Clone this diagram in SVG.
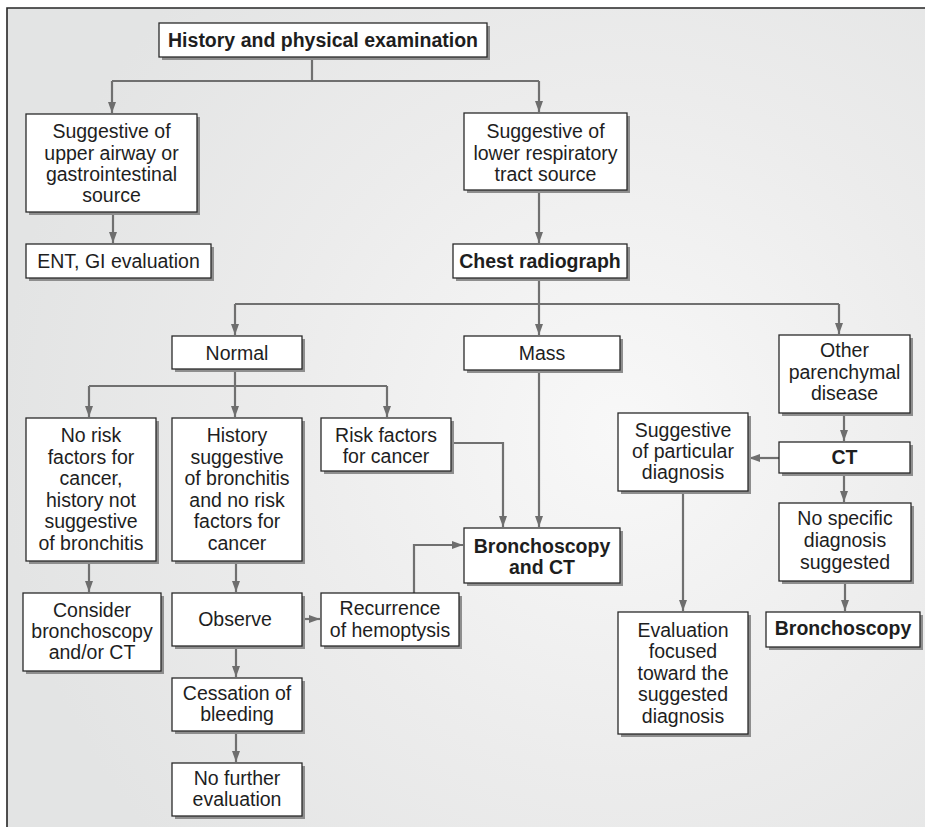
<svg xmlns="http://www.w3.org/2000/svg" width="925" height="827" viewBox="0 0 925 827">
  <style>
    .box { fill: #ffffff; stroke: #2a2a2a; stroke-width: 1.3; }
    .shadow { fill: #8e8e8e; }
    .t { font-family: "Liberation Sans", Arial, Helvetica, sans-serif; font-size: 19.5px; fill: #1e1e1e; text-anchor: middle; }
    .b { font-weight: bold; }
    .c { fill: none; stroke: #707070; stroke-width: 2.2; }
    .ca { fill: none; stroke: #707070; stroke-width: 2.2; marker-end: url(#arrow); }
  </style>
  <defs>
    <radialGradient id="bg" cx="620" cy="430" r="620" gradientUnits="userSpaceOnUse">
      <stop offset="0" stop-color="#f8f8f8"/>
      <stop offset="0.55" stop-color="#ececec"/>
      <stop offset="1" stop-color="#e3e4e4"/>
    </radialGradient>
    <marker id="arrow" markerUnits="userSpaceOnUse" markerWidth="12" markerHeight="10" viewBox="0 0 12 10" refX="11" refY="5" orient="auto">
      <path d="M0,1 L11,5 L0,9 Z" fill="#6e6e6e"/>
    </marker>
  </defs>

  <!-- page and frame -->
  <rect x="0" y="0" width="925" height="827" fill="#ffffff"/>
  <rect x="7" y="8" width="918" height="819" fill="url(#bg)"/>
  <path d="M7,827 V8 H925" fill="none" stroke="#262626" stroke-width="1.6"/>

  <!-- connectors -->
  <g id="connectors">
    <path class="c" d="M312,57 V81 M112,81 H539"/>
    <path class="ca" d="M112,81 V113"/>
    <path class="ca" d="M539,81 V112"/>
    <path class="ca" d="M113,212 V243"/>
    <path class="ca" d="M539,190 V243"/>
    <path class="c" d="M539,278 V304 M235,304 H839"/>
    <path class="ca" d="M235,304 V335"/>
    <path class="ca" d="M539,304 V335"/>
    <path class="ca" d="M839,304 V334"/>
    <path class="c" d="M235,369 V386 M89,386 H387"/>
    <path class="ca" d="M89,386 V417"/>
    <path class="ca" d="M235,386 V417"/>
    <path class="ca" d="M387,386 V417"/>
    <path class="ca" d="M451,443 H503 V527"/>
    <path class="ca" d="M539,370 V527"/>
    <path class="ca" d="M844,413 V441"/>
    <path class="ca" d="M779,458 H749"/>
    <path class="ca" d="M844,473 V502"/>
    <path class="ca" d="M683,491 V611"/>
    <path class="ca" d="M845,581 V611"/>
    <path class="ca" d="M89,561 V592"/>
    <path class="ca" d="M236,561 V592"/>
    <path class="ca" d="M302,619 H320"/>
    <path class="ca" d="M414,593 V545 H463"/>
    <path class="ca" d="M236,646 V677"/>
    <path class="ca" d="M236,731 V762"/>
  </g>

  <g id="history">
    <rect class="shadow" x="162" y="26" width="328" height="34"/>
    <rect class="box" x="159" y="23" width="328" height="34"/>
    <text class="t b" x="323" y="47">History and physical examination</text>
  </g>

  <g id="upper-source">
    <rect class="shadow" x="29" y="117" width="171" height="98"/>
    <rect class="box" x="26" y="114" width="171" height="98"/>
    <text class="t" x="111.5" y="138">Suggestive of</text>
    <text class="t" x="111.5" y="160">upper airway or</text>
    <text class="t" x="111.5" y="181">gastrointestinal</text>
    <text class="t" x="111.5" y="202">source</text>
  </g>

  <g id="ent-gi">
    <rect class="shadow" x="29" y="247" width="185" height="34"/>
    <rect class="box" x="26" y="244" width="185" height="34"/>
    <text class="t" x="118.5" y="268">ENT, GI evaluation</text>
  </g>

  <g id="lower-source">
    <rect class="shadow" x="467" y="116" width="163" height="77"/>
    <rect class="box" x="464" y="113" width="163" height="77"/>
    <text class="t" x="545.5" y="138">Suggestive of</text>
    <text class="t" x="545.5" y="160">lower respiratory</text>
    <text class="t" x="545.5" y="181">tract source</text>
  </g>

  <g id="chest-radiograph">
    <rect class="shadow" x="456" y="247" width="174" height="34"/>
    <rect class="box" x="453" y="244" width="174" height="34"/>
    <text class="t b" x="540" y="268">Chest radiograph</text>
  </g>

  <g id="normal">
    <rect class="shadow" x="175" y="339" width="130" height="33"/>
    <rect class="box" x="172" y="336" width="130" height="33"/>
    <text class="t" x="237" y="360">Normal</text>
  </g>

  <g id="mass">
    <rect class="shadow" x="467" y="339" width="156" height="34"/>
    <rect class="box" x="464" y="336" width="156" height="34"/>
    <text class="t" x="542" y="360">Mass</text>
  </g>

  <g id="other-parenchymal">
    <rect class="shadow" x="782" y="338" width="131" height="78"/>
    <rect class="box" x="779" y="335" width="131" height="78"/>
    <text class="t" x="844.5" y="357">Other</text>
    <text class="t" x="844.5" y="379">parenchymal</text>
    <text class="t" x="844.5" y="400">disease</text>
  </g>

  <g id="no-risk">
    <rect class="shadow" x="29" y="421" width="130" height="143"/>
    <rect class="box" x="26" y="418" width="130" height="143"/>
    <text class="t" x="91" y="442">No risk</text>
    <text class="t" x="91" y="463.5">factors for</text>
    <text class="t" x="91" y="485">cancer,</text>
    <text class="t" x="91" y="506.5">history not</text>
    <text class="t" x="91" y="528">suggestive</text>
    <text class="t" x="91" y="549.5">of bronchitis</text>
  </g>

  <g id="bronchitis-history">
    <rect class="shadow" x="175" y="421" width="130" height="143"/>
    <rect class="box" x="172" y="418" width="130" height="143"/>
    <text class="t" x="237" y="442">History</text>
    <text class="t" x="237" y="463.5">suggestive</text>
    <text class="t" x="237" y="485">of bronchitis</text>
    <text class="t" x="237" y="506.5">and no risk</text>
    <text class="t" x="237" y="528">factors for</text>
    <text class="t" x="237" y="549.5">cancer</text>
  </g>

  <g id="risk-factors">
    <rect class="shadow" x="324" y="421" width="130" height="53"/>
    <rect class="box" x="321" y="418" width="130" height="53"/>
    <text class="t" x="386" y="442">Risk factors</text>
    <text class="t" x="386" y="463">for cancer</text>
  </g>

  <g id="particular-diagnosis">
    <rect class="shadow" x="621" y="416" width="130" height="78"/>
    <rect class="box" x="618" y="413" width="130" height="78"/>
    <text class="t" x="683" y="437">Suggestive</text>
    <text class="t" x="683" y="458">of particular</text>
    <text class="t" x="683" y="479">diagnosis</text>
  </g>

  <g id="ct">
    <rect class="shadow" x="782" y="445" width="131" height="31"/>
    <rect class="box" x="779" y="442" width="131" height="31"/>
    <text class="t b" x="844.5" y="464">CT</text>
  </g>

  <g id="no-specific">
    <rect class="shadow" x="782" y="506" width="132" height="78"/>
    <rect class="box" x="779" y="503" width="132" height="78"/>
    <text class="t" x="845" y="525">No specific</text>
    <text class="t" x="845" y="547">diagnosis</text>
    <text class="t" x="845" y="569">suggested</text>
  </g>

  <g id="bronchoscopy-ct">
    <rect class="shadow" x="467" y="531" width="156" height="55"/>
    <rect class="box" x="464" y="528" width="156" height="55"/>
    <text class="t b" x="542" y="553">Bronchoscopy</text>
    <text class="t b" x="542" y="574">and CT</text>
  </g>

  <g id="consider">
    <rect class="shadow" x="26" y="596" width="138" height="78"/>
    <rect class="box" x="23" y="593" width="138" height="78"/>
    <text class="t" x="92" y="617">Consider</text>
    <text class="t" x="92" y="638">bronchoscopy</text>
    <text class="t" x="92" y="659">and/or CT</text>
  </g>

  <g id="observe">
    <rect class="shadow" x="175" y="596" width="130" height="53"/>
    <rect class="box" x="172" y="593" width="130" height="53"/>
    <text class="t" x="235" y="626">Observe</text>
  </g>

  <g id="recurrence">
    <rect class="shadow" x="324" y="596" width="138" height="53"/>
    <rect class="box" x="321" y="593" width="138" height="53"/>
    <text class="t" x="390" y="615">Recurrence</text>
    <text class="t" x="390" y="637">of hemoptysis</text>
  </g>

  <g id="evaluation-focused">
    <rect class="shadow" x="621" y="615" width="130" height="122"/>
    <rect class="box" x="618" y="612" width="130" height="122"/>
    <text class="t" x="683" y="637">Evaluation</text>
    <text class="t" x="683" y="658">focused</text>
    <text class="t" x="683" y="680">toward the</text>
    <text class="t" x="683" y="701">suggested</text>
    <text class="t" x="683" y="723">diagnosis</text>
  </g>

  <g id="bronchoscopy">
    <rect class="shadow" x="769" y="615" width="154" height="35"/>
    <rect class="box" x="766" y="612" width="154" height="35"/>
    <text class="t b" x="843" y="635">Bronchoscopy</text>
  </g>

  <g id="cessation">
    <rect class="shadow" x="175" y="681" width="130" height="53"/>
    <rect class="box" x="172" y="678" width="130" height="53"/>
    <text class="t" x="237" y="700">Cessation of</text>
    <text class="t" x="237" y="721">bleeding</text>
  </g>

  <g id="no-further">
    <rect class="shadow" x="175" y="766" width="130" height="53"/>
    <rect class="box" x="172" y="763" width="130" height="53"/>
    <text class="t" x="237" y="785">No further</text>
    <text class="t" x="237" y="806">evaluation</text>
  </g>
</svg>
